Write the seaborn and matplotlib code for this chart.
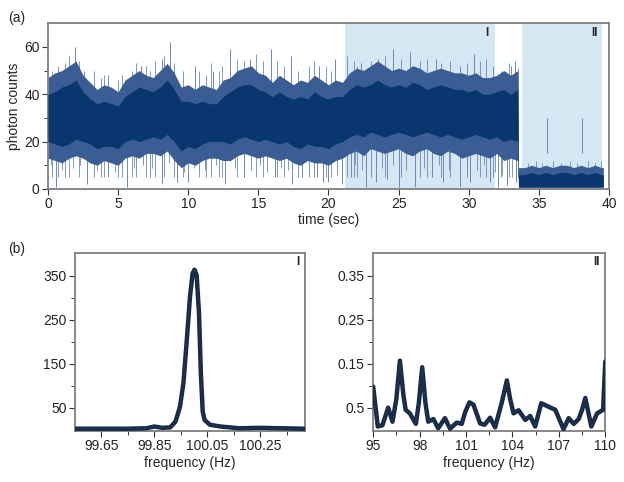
import numpy as np
import pandas as pd
import matplotlib
matplotlib.use('Agg')
import matplotlib.pyplot as plt
from matplotlib.ticker import MultipleLocator, FixedLocator
import seaborn as sns

sns.set_theme(style='white')
plt.rcParams['font.family'] = ['Liberation Sans', 'DejaVu Sans']

# ---- (a) photon count trace, read as envelopes every 0.5 s ----
time_knots = np.concatenate([np.arange(0, 34, 0.5), [33.55], np.arange(34, 40, 0.5), [39.6]])

core_hi = [40, 41, 43, 44, 46, 41, 38, 36, 37, 36, 35, 39, 41, 43, 42, 41, 43, 46, 42, 37,
           37, 36, 37, 36, 36, 39, 41, 43, 44, 44, 42, 41, 39, 41, 39, 38, 39, 38, 41, 39,
           38, 39, 39,
           42, 44, 43, 44, 46, 44, 43, 44, 43, 45, 44, 42, 43, 44, 43, 42, 42, 41, 42, 40,
           40, 41, 42, 40, 42,
           6, 6, 7, 6, 7, 6, 7, 7, 6, 7, 6, 7, 6, 6]
core_lo = [20, 19, 18, 19, 21, 20, 19, 17, 18, 18, 17, 20, 21, 20, 21, 22, 21, 23, 20, 16,
           18, 17, 19, 20, 20, 20, 19, 21, 22, 21, 20, 21, 20, 19, 20, 18, 17, 19, 18, 18,
           17, 19, 20,
           22, 23, 22, 24, 23, 22, 23, 24, 23, 22, 23, 24, 23, 22, 23, 22, 21, 22, 23, 22,
           21, 22, 20, 21, 20,
           1, 1, 1, 1, 1, 1, 1, 1, 1, 1, 1, 1, 1, 1]
outer_hi = [47, 49, 50, 52, 54, 48, 45, 42, 44, 43, 41, 46, 48, 50, 48, 47, 50, 53, 49, 43,
            44, 42, 44, 43, 42, 46, 47, 50, 51, 52, 49, 48, 45, 48, 46, 44, 46, 45, 48, 46,
            44, 46, 45,
            49, 51, 50, 52, 54, 52, 50, 51, 50, 52, 51, 49, 50, 51, 50, 49, 49, 48, 49, 47,
            47, 48, 50, 48, 50,
            9, 9, 10, 9, 10, 9, 10, 10, 9, 10, 9, 10, 9, 9]
outer_lo = [13, 12, 11, 13, 14, 13, 11, 10, 12, 11, 10, 13, 14, 13, 15, 15, 14, 16, 12, 9,
            11, 10, 12, 13, 13, 12, 12, 14, 15, 14, 13, 14, 13, 12, 13, 11, 10, 12, 11, 11,
            10, 12, 13,
            15, 16, 14, 17, 16, 15, 16, 17, 15, 14, 16, 17, 15, 14, 16, 15, 13, 14, 15, 14,
            13, 15, 12, 13, 12,
            0.5, 0.5, 0.5, 0.5, 0.5, 0.5, 0.5, 0.5, 0.5, 0.5, 0.5, 0.5, 0.5, 0.5]

# tallest isolated spikes
spike_up_t = [0.9, 1.6, 1.9, 2.6, 4.3, 6.6, 8.1, 8.7, 10.5, 11.8, 13.0, 14.4, 15.9, 17.3,
              19.3, 20.45, 22.3, 23.5, 24.6, 25.8, 27.7, 29.4, 30.4, 33.0, 33.3, 35.6, 38.1]
spike_up_y = [50, 52, 60, 50, 48, 52, 55, 62, 52, 50, 59, 55, 59, 56,
              52, 55, 53, 55, 59, 58, 55, 52, 57, 52, 54, 15, 15]
spike_dn_t = [0.6, 2.8, 4.3, 5.6, 8.1, 9.2, 10.0, 12.6, 14.0, 16.2, 17.4, 18.1, 19.15, 19.6,
              20.0, 20.95, 21.6, 22.7, 23.4, 24.2, 25.0, 26.2, 27.4, 28.2, 29.4, 30.1, 31.5,
              32.07, 32.7, 33.4]
spike_dn_y = [1, 2, 5, 1, 2, 3, 3, 2, 5, 5, 2, 5, 5, 3,
              3, 2, 5, 1, 3, 4, 1, 1, 5, 3, 1, 3, 3,
              1, 1.5, 3]

# smaller spikes poking out of the fringe
fringe_up_t = [0.3, 0.7, 1.2, 1.5, 2.2, 3.3, 3.8, 4.0, 5.0, 5.3, 6.0, 6.3, 7.0, 7.3, 7.6,
               8.3, 9.0, 9.6, 10.8, 11.3, 11.6, 12.2, 12.4, 13.5, 14.0, 14.8, 15.3, 16.3,
               16.8, 17.8, 18.6, 19.0, 19.8, 20.2, 21.3, 21.8, 22.0, 23.0, 24.0, 25.2,
               26.5, 27.0, 28.0, 28.7, 29.9, 30.8, 31.2, 31.7, 32.3, 32.9, 33.5,
               34.2, 34.8, 35.2, 36.0, 36.6, 37.2, 37.7, 38.5, 39.0, 39.4]
fringe_up_y = [50, 52, 53, 56, 54, 50, 47, 48, 46, 48, 50, 53, 52, 50, 54,
               56, 53, 50, 50, 48, 53, 50, 52, 55, 54, 57, 54, 54,
               52, 50, 52, 54, 52, 50, 56, 54, 52, 54, 56, 55,
               54, 55, 53, 54, 53, 54, 55, 52, 50, 53, 51,
               11, 12, 11, 12, 11, 12, 11, 12, 11, 12]
fringe_dn_t = [0.2, 1.0, 1.8, 2.3, 3.5, 4.8, 6.1, 6.8, 7.4, 8.6, 9.7, 10.4, 11.2, 12.0,
               13.3, 14.5, 15.1, 15.6, 16.6, 17.1, 18.6, 20.6, 21.9, 22.4, 23.8, 24.6,
               25.5, 26.8, 27.9, 28.6, 29.9, 30.6, 31.1, 31.9, 32.4, 33.1]
fringe_dn_y = [10, 8, 9, 10, 8, 7, 9, 10, 9, 11, 7, 9, 8, 10,
               9, 8, 10, 7, 9, 8, 7, 6, 10, 8, 9, 10,
               8, 9, 10, 8, 9, 8, 10, 7, 6, 5]

region_I = (21.2, 31.9)
region_II = (33.8, 39.5)

# ---- (b) spectra ----
freq_I = [99.55, 99.65, 99.75, 99.82, 99.85, 99.88, 99.91, 99.93, 99.947, 99.96, 99.972,
          99.985, 99.995, 100.002, 100.01, 100.019, 100.026, 100.033, 100.04, 100.06,
          100.1, 100.136, 100.17, 100.25, 100.33, 100.42]
power_I = [2, 2, 2, 3, 7, 4, 5, 18, 52, 105, 197, 303, 356, 364, 352, 265, 128, 41, 22, 11,
           7, 5, 3, 4, 3, 2]

freq_II = [95.0, 95.3, 95.6, 95.97, 96.25, 96.5, 96.73, 96.95, 97.1, 97.37, 97.76, 97.95,
           98.17, 98.38, 98.56, 98.89, 99.2, 99.64, 99.97, 100.4, 100.72, 100.95, 101.22,
           101.48, 101.91, 102.2, 102.56, 102.88, 103.3, 103.64, 103.85, 104.07, 104.4,
           104.83, 105.15, 105.47, 105.86, 106.34, 106.77, 107.3, 107.64, 107.96, 108.28,
           108.5, 108.71, 108.9, 109.1, 109.47, 109.86, 110.0]
power_II = [0.098, 0.007, 0.01, 0.05, 0.018, 0.07, 0.157, 0.08, 0.045, 0.037, 0.013, 0.06,
            0.142, 0.06, 0.018, 0.024, 0.003, 0.026, 0.002, 0.016, 0.013, 0.04, 0.062,
            0.057, 0.014, 0.011, 0.027, 0.005, 0.06, 0.112, 0.07, 0.037, 0.044,
            0.022, 0.031, 0.007, 0.06, 0.052, 0.045, 0.001, 0.026, 0.013, 0.024,
            0.045, 0.072, 0.04, 0.007, 0.037, 0.045, 0.155]

dark = '#0a3670'
fray = '#3a5d93'
spike_col = '#6d88b4'
shade = '#d5e7f3'
spec_col = '#172a45'
spine_col = '#7f7f7f'
fs = 10

fig = plt.figure(figsize=(6.24, 4.82), dpi=100)
ax_a = fig.add_axes([0.0769, 0.608, 0.899, 0.344])
ax_b1 = fig.add_axes([0.120, 0.106, 0.369, 0.369])
ax_b2 = fig.add_axes([0.598, 0.106, 0.372, 0.369])


def style_axes(ax):
    for s in ax.spines.values():
        s.set_visible(True)
        s.set_color(spine_col)
        s.set_linewidth(1.3)
    ax.tick_params(which='both', direction='out', color='#333333', labelsize=fs,
                   labelcolor='#222222', pad=2)
    ax.tick_params(which='major', length=4, width=0.8)
    ax.tick_params(which='minor', length=3, width=0.7)
    ax.tick_params(axis='y', which='both', left=True)
    ax.tick_params(axis='x', which='both', bottom=True)
    ax.grid(False)


# (a)
ax_a.axvspan(*region_I, color=shade, lw=0, zorder=0)
ax_a.axvspan(*region_II, color=shade, lw=0, zorder=0)
ax_a.vlines(spike_up_t, 30, spike_up_y, color=spike_col, lw=0.7, zorder=1)
ax_a.vlines(spike_dn_t, spike_dn_y, 30, color=spike_col, lw=0.7, zorder=1)
ax_a.vlines(fringe_up_t, 5, fringe_up_y, color=spike_col, lw=0.6, zorder=1)
ax_a.vlines(fringe_dn_t, fringe_dn_y, 30, color=spike_col, lw=0.6, zorder=1)
ax_a.fill_between(time_knots, outer_lo, outer_hi, color=fray, lw=0, zorder=2)
ax_a.fill_between(time_knots, core_lo, core_hi, color=dark, lw=0, zorder=3)
ax_a.set_xlim(0, 40)
ax_a.set_ylim(0, 70)
ax_a.xaxis.set_major_locator(MultipleLocator(5))
ax_a.yaxis.set_major_locator(FixedLocator([0, 20, 40, 60]))
ax_a.yaxis.set_minor_locator(FixedLocator([10, 30, 50]))
ax_a.set_xlabel('time (sec)', fontsize=fs, labelpad=1)
ax_a.set_ylabel('photon counts', fontsize=fs, labelpad=2)
style_axes(ax_a)
ax_a.text(31.3, 66, 'I', fontsize=8.5, fontweight='bold', ha='center', va='center')
ax_a.text(39.0, 66, 'II', fontsize=8.5, fontweight='bold', ha='center', va='center')

# (b) spectra
spec_I = pd.DataFrame({'freq': freq_I, 'power': power_I})
spec_II = pd.DataFrame({'freq': freq_II, 'power': power_II})

for ax, df in [(ax_b1, spec_I), (ax_b2, spec_II)]:
    sns.lineplot(data=df, x='freq', y='power', ax=ax, color=spec_col, lw=3.2, zorder=3)
    sns.lineplot(data=df, x='freq', y='power', ax=ax, color='#52667f', lw=0.5,
                 ls=(0, (1, 3)), zorder=4)
    ax.set_xlabel('frequency (Hz)', fontsize=fs, labelpad=2)
    ax.set_ylabel('')
    style_axes(ax)

ax_b1.set_xlim(99.55, 100.42)
ax_b1.set_ylim(-3, 402)
ax_b1.xaxis.set_major_locator(FixedLocator([99.65, 99.85, 100.05, 100.25]))
ax_b1.xaxis.set_minor_locator(FixedLocator([99.75, 99.95, 100.15, 100.35]))
ax_b1.set_xticklabels(['99.65', '99.85', '100.05', '100.25'])
ax_b1.yaxis.set_major_locator(FixedLocator([50, 150, 250, 350]))
ax_b1.yaxis.set_minor_locator(FixedLocator([100, 200, 300]))
ax_b1.set_yticklabels(['50', '150', '250', '350'])
ax_b1.text(0.975, 0.95, 'I', transform=ax_b1.transAxes, fontsize=8.5, fontweight='bold',
           ha='right', va='center')

ax_b2.set_xlim(95, 110)
ax_b2.set_ylim(-0.003, 0.402)
ax_b2.xaxis.set_major_locator(FixedLocator([95, 98, 101, 104, 107, 110]))
ax_b2.xaxis.set_minor_locator(FixedLocator([96.5, 99.5, 102.5, 105.5, 108.5]))
ax_b2.set_xticklabels(['95', '98', '101', '104', '107', '110'])
ax_b2.yaxis.set_major_locator(FixedLocator([0.05, 0.15, 0.25, 0.35]))
ax_b2.yaxis.set_minor_locator(FixedLocator([0.1, 0.2, 0.3]))
ax_b2.set_yticklabels(['0.5', '0.15', '0.25', '0.35'])
ax_b2.text(0.975, 0.95, 'II', transform=ax_b2.transAxes, fontsize=8.5, fontweight='bold',
           ha='right', va='center')

fig.text(0.013, 0.978, '(a)', fontsize=10, va='top')
fig.text(0.013, 0.497, '(b)', fontsize=10, va='top')

fig.savefig('out.png', dpi=100)
